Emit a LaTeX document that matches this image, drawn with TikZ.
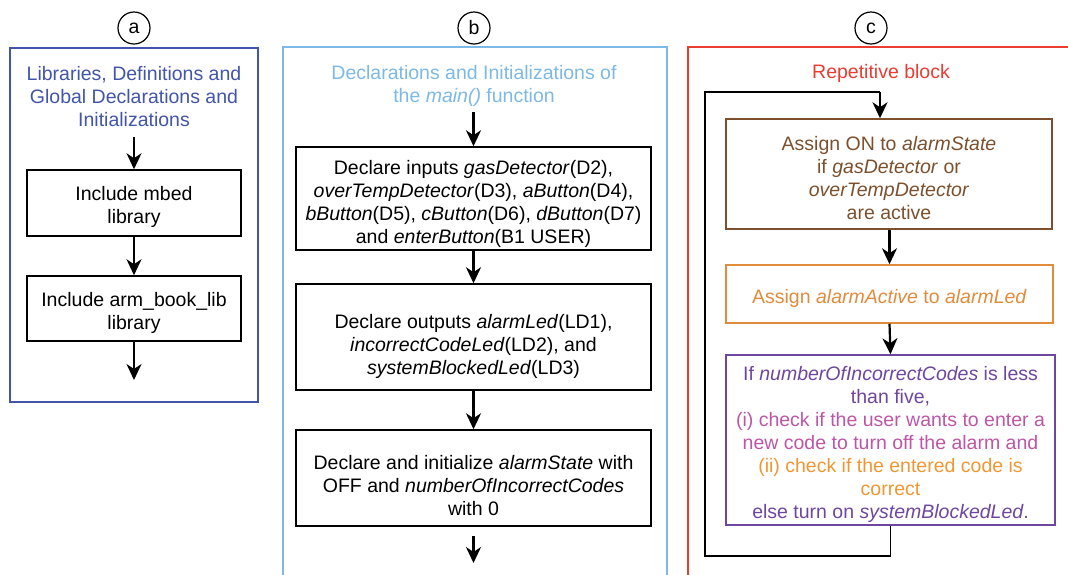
\documentclass[tikz,border=0pt]{standalone}
\usepackage{fontspec}
\setmainfont{Liberation Sans}
\usetikzlibrary{arrows.meta}
\definecolor{cBlue}{RGB}{65,85,170}
\definecolor{cLight}{RGB}{125,185,230}
\definecolor{cRed}{RGB}{235,60,50}
\definecolor{cBrown}{RGB}{125,80,45}
\definecolor{cOrange}{RGB}{225,140,60}
\definecolor{cOrangeT}{RGB}{240,150,50}
\definecolor{cPurple}{RGB}{110,70,160}
\definecolor{cPink}{RGB}{190,85,165}
\begin{document}
\begin{tikzpicture}[x=1pt,y=-1pt,
  txt/.style={font=\fontsize{19.5}{23}\selectfont, align=center, inner sep=0pt},
  label/.style={circle, draw=black, line width=1.2pt, minimum size=32pt, inner sep=0pt, font=\fontsize{19.5}{23}\selectfont},
  stepbox/.style={draw=black, line width=1.5pt, minimum width=#1, inner sep=0pt},
  arrowln/.style={draw=black, line width=2.2pt, -{Stealth[length=16pt,width=15pt,inset=5pt]}},
  frame/.style={line width=1.2pt}]
\useasboundingbox (0,0) rectangle (1068,574);

% ---------- panel a ----------
\node[label] (la) at (134,28) {a};
\draw[frame, cBlue] (10,48) rectangle (258,402);
\node[txt, text=cBlue] (ta) at (134,97) {Libraries, Definitions and\\Global Declarations and\\Initializations};
\node[stepbox=214pt, minimum height=66pt] (a1) at (134,203) {};
\node[txt] (a1t) at ([yshift=-4pt]a1.center) {Include mbed\\library};
\node[stepbox=214pt, minimum height=65pt] (a2) at (134,308.5) {};
\node[txt] (a2t) at ([yshift=-4pt]a2.center) {Include arm\_book\_lib\\library};
\coordinate (a0) at (134,137);
\coordinate (ae) at (134,380);
\draw[arrowln] (a0) -- (a1.north);
\draw[arrowln] (a1.south) -- (a2.north);
\draw[arrowln] (a2.south) -- (ae);

% ---------- panel b ----------
\node[label] (lb) at (474,28) {b};
\draw[frame, cLight] (283,600) -- (283,47) -- (667,47) -- (667,600);
\node[txt, text=cLight] (tb) at (474,86) {Declarations and Initializations of\\the \textit{main()} function};
\node[stepbox=355pt, minimum height=103pt] (b1) at (473.5,198.5) {};
\node[txt] (b1t) at ([yshift=-5pt]b1.center) {Declare inputs \textit{gasDetector}(D2),\\\textit{overTempDetector}(D3), \textit{aButton}(D4),\\\textit{bButton}(D5), \textit{cButton}(D6), \textit{dButton}(D7)\\and \textit{enterButton}(B1 USER)};
\node[stepbox=355pt, minimum height=106pt] (b2) at (473.5,337) {};
\node[txt] (b2t) at ([yshift=-9pt]b2.center) {Declare outputs \textit{alarmLed}(LD1),\\\textit{incorrectCodeLed}(LD2), and\\\textit{systemBlockedLed}(LD3)};
\node[stepbox=355pt, minimum height=96pt] (b3) at (473.5,478) {};
\node[txt] (b3t) at ([yshift=-8pt]b3.center) {Declare and initialize \textit{alarmState} with\\OFF and \textit{numberOfIncorrectCodes}\\with 0};
\coordinate (b0) at (473.5,112);
\coordinate (be) at (473.5,563);
\draw[arrowln] (b0) -- (b1.north);
\draw[arrowln] (b1.south) -- (b2.north);
\draw[arrowln] (b2.south) -- (b3.north);
\draw[arrowln, shorten <=9pt] (b3.south) -- (be);

% ---------- panel c ----------
\node[label] (lc) at (871,28) {c};
\draw[frame, cRed] (688,600) -- (688,47) -- (1080,47);
\node[txt, text=cRed] (tc) at (881,73) {Repetitive block};
\node[stepbox=326pt, minimum height=110pt, draw=cBrown] (c1) at (889,174) {};
\node[txt, text=cBrown] (c1t) at ([yshift=-4pt]c1.center) {Assign ON to \textit{alarmState}\\if \textit{gasDetector} or\\\textit{overTempDetector}\\are active};
\node[stepbox=327pt, minimum height=58pt, draw=cOrange] (c2) at (889.5,294) {};
\node[txt, text=cOrange] (c2t) at ([yshift=-4pt]c2.center) {Assign \textit{alarmActive} to \textit{alarmLed}};
\node[stepbox=329pt, minimum height=170pt, draw=cPurple] (c3) at (890.5,440) {};
\node[txt] (c3t) at ([yshift=-4pt]c3.center) {\textcolor{cPurple}{If \textit{numberOfIncorrectCodes} is less}\\\textcolor{cPurple}{than five,}\\\textcolor{cPink}{(i) check if the user wants to enter a}\\\textcolor{cPink}{new code to turn off the alarm and}\\\textcolor{cOrangeT}{(ii) check if the entered code is}\\\textcolor{cOrangeT}{correct}\\\textcolor{cPurple}{else turn on \textit{systemBlockedLed}.}};
\coordinate (lp1) at (705,556);
\coordinate (lp2) at (705,92);
\coordinate (lp3) at (880,92);
\draw[arrowln] (c1.south -| c2.north) -- (c2.north);
\draw[arrowln] (c2.south) -- (c3.north);
\draw[line width=1.5pt] (c3.south) |- (lp1) -- (lp2) -- (lp3);
\draw[arrowln] (lp3) -- (lp3 |- c1.north);
\end{tikzpicture}
\end{document}
